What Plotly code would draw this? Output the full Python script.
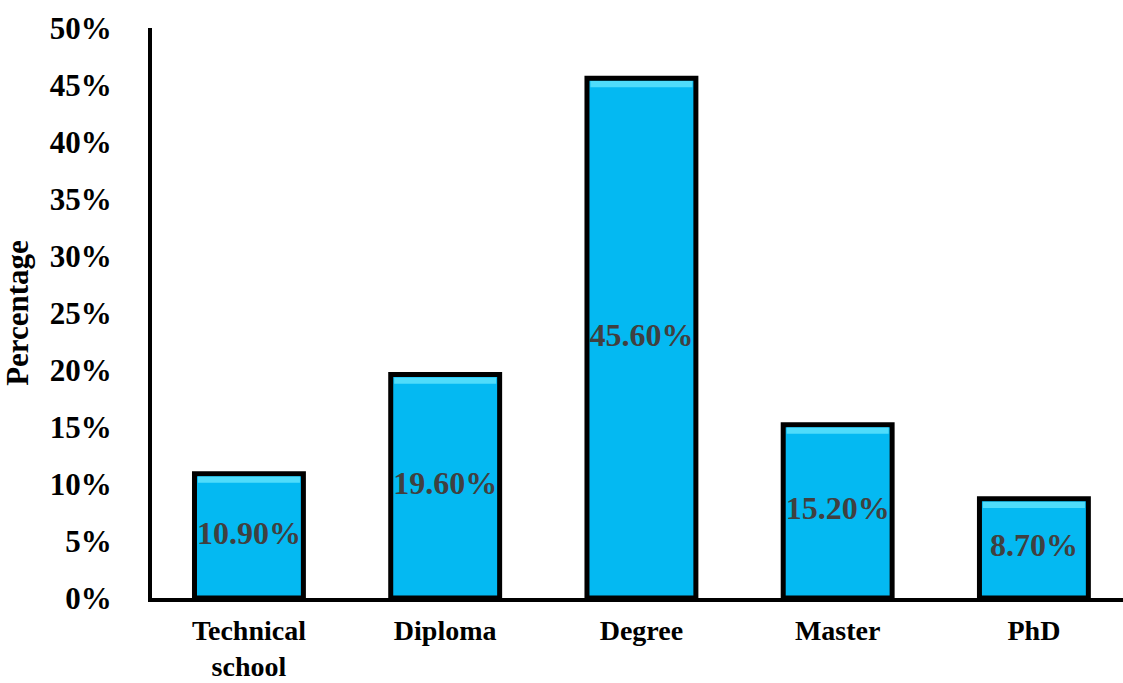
import plotly.graph_objects as go

categories = ["Technical<br>school", "Diploma", "Degree", "Master", "PhD"]
values = [10.9, 19.6, 45.6, 15.2, 8.7]
labels = ["10.90%", "19.60%", "45.60%", "15.20%", "8.70%"]
tick_vals = [0, 5, 10, 15, 20, 25, 30, 35, 40, 45, 50]
tick_text = [f"{v}%" for v in tick_vals]

font = "Liberation Serif, Times New Roman, serif"
xpos = list(range(len(categories)))

fig = go.Figure()
fig.add_trace(go.Bar(
    x=xpos, y=values,
    marker=dict(color="#04B9F2", line=dict(color="black", width=5)),
    width=0.555, hoverinfo="skip",
))
# bevel highlight on top edge
fig.add_trace(go.Bar(
    x=xpos, y=[0.55] * len(values),
    base=[v - 0.8 for v in values],
    marker=dict(color="#4FDCFB", line=dict(width=0)),
    width=0.52, hoverinfo="skip",
))
# value labels centred in bars
fig.add_trace(go.Scatter(
    x=xpos, y=[v / 2 for v in values], text=labels, mode="text",
    textposition="middle center",
    textfont=dict(family=font, size=32, color="#404040", weight="bold"),
    hoverinfo="skip", cliponaxis=False,
))

fig.update_layout(
    width=1123, height=683,
    margin=dict(l=152, r=0, t=28, b=85),
    paper_bgcolor="white", plot_bgcolor="white",
    showlegend=False, barmode="overlay",
    font=dict(family=font, color="black"),
)
fig.update_xaxes(
    range=[-0.494, 4.454], automargin=False,
    tickvals=xpos, ticktext=categories,
    showline=True, linecolor="black", linewidth=4, showgrid=False, zeroline=False,
    ticks="", ticklabelstandoff=4,
    tickfont=dict(family=font, size=28, color="black", weight="bold"),
)
fig.update_yaxes(
    range=[0, 50], tickvals=tick_vals, ticktext=tick_text, automargin=False,
    showline=True, linecolor="black", linewidth=4, showgrid=False, zeroline=False,
    ticks="", ticklabelstandoff=30,
    tickfont=dict(family=font, size=31, color="black", weight="bold"),
    title=dict(text="Percentage", standoff=14,
               font=dict(family=font, size=31, color="black", weight="bold")),
)

fig.write_html("out.html")
